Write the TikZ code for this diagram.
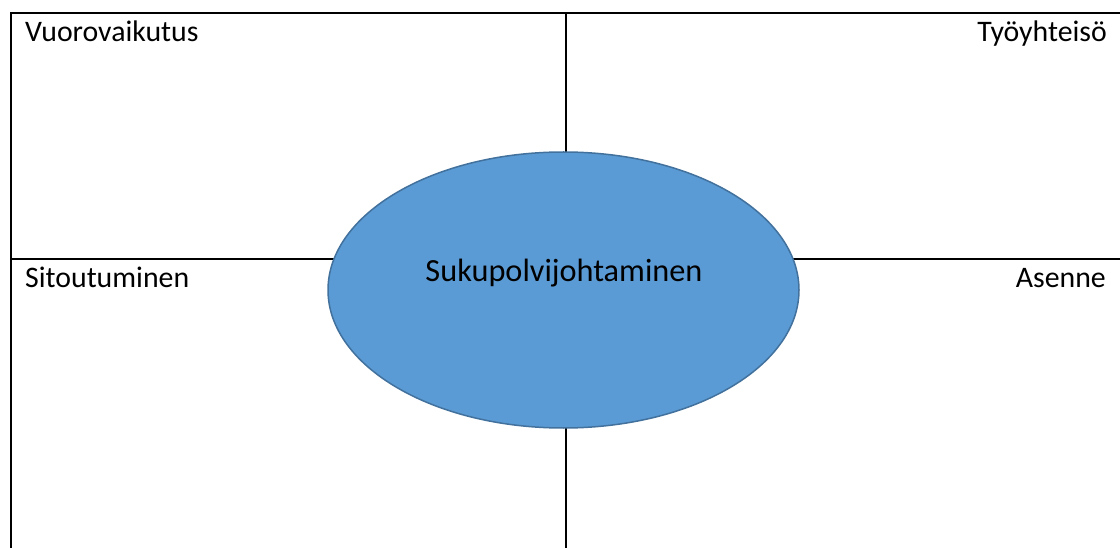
\documentclass[tikz,border=0pt]{standalone}
\usepackage{fontspec}
\setmainfont{Carlito}
\usetikzlibrary{shapes.geometric}
\definecolor{ellfill}{HTML}{5B9BD5}
\definecolor{elldraw}{HTML}{41719C}
\begin{document}
\begin{tikzpicture}[x=1pt,y=-1pt,
  grid/.style={line width=2pt,black},
  label/.style={font=\fontsize{29.8}{34}\selectfont,inner sep=0pt},
  hub/.style={ellipse,fill=ellfill,draw=elldraw,line width=1.5pt,minimum width=471pt,minimum height=276pt,inner sep=0pt}]
\useasboundingbox (0,0) rectangle (1120,548);
\begin{scope}
\clip (0,0) rectangle (1120,548);
\coordinate (tl) at (11,13);
\coordinate (br) at (1135,560);
\coordinate (vt) at (566,13);
\coordinate (vb) at (566,560);
\coordinate (hl) at (11,259);
\coordinate (hr) at (1135,259);
\draw[grid] (tl) rectangle (br);
\draw[grid] (vt) -- (vb);
\draw[grid] (hl) -- (hr);
\node[hub] (e) at (563.5,290) {};
\end{scope}
\node[label,anchor=base west] (q1) at (25,41.5) {Vuorovaikutus};
\node[label,anchor=base east] (q2) at (1107,41.5) {Työyhteisö};
\node[label,anchor=base west] (q3) at (25,287.5) {Sitoutuminen};
\node[label,anchor=base east] (q4) at (1106,287.5) {Asenne};
\node[font=\fontsize{32.3}{38}\selectfont,inner sep=0pt,anchor=base] (c) at (564,282) {Sukupolvijohtaminen};
\end{tikzpicture}
\end{document}
